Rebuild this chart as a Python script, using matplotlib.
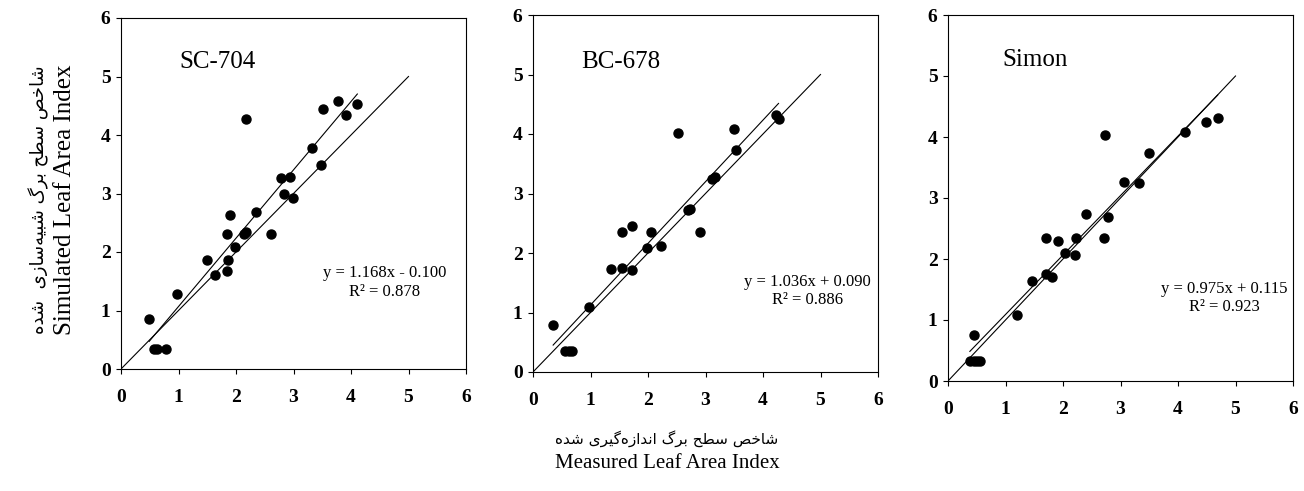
import matplotlib
matplotlib.use("Agg")
import matplotlib.pyplot as plt

# measured / simulated LAI for the three cultivars
sc704_x = [0.49, 0.57, 0.63, 0.79, 0.97, 1.49, 1.63, 1.84, 1.90, 1.86, 1.84, 1.99, 2.14,
           2.18, 2.17, 2.35, 2.60, 2.79, 2.83, 2.94, 2.99, 3.33, 3.48, 3.51, 3.78, 3.92, 4.11]
sc704_y = [0.85, 0.34, 0.34, 0.34, 1.29, 1.87, 1.61, 2.31, 2.64, 1.86, 1.68, 2.08, 2.30,
           2.35, 4.27, 2.69, 2.30, 3.26, 3.00, 3.29, 2.92, 3.78, 3.48, 4.44, 4.58, 4.34, 4.53]

bc678_x = [0.35, 0.55, 0.62, 0.68, 0.97, 1.35, 1.54, 1.54, 1.72, 1.73, 1.99, 2.06,
           2.22, 2.52, 2.69, 2.73, 2.91, 3.12, 3.16, 3.49, 3.53, 4.23, 4.27]
bc678_y = [0.79, 0.35, 0.35, 0.35, 1.10, 1.73, 1.75, 2.35, 2.46, 1.71, 2.08, 2.36,
           2.12, 4.02, 2.72, 2.74, 2.35, 3.25, 3.27, 4.08, 3.73, 4.32, 4.25]

simon_x = [0.38, 0.45, 0.50, 0.56, 0.46, 1.20, 1.46, 1.70, 1.70, 1.81, 1.91, 2.03,
           2.21, 2.22, 2.40, 2.71, 2.73, 2.79, 3.06, 3.33, 3.50, 4.13, 4.48, 4.69]
simon_y = [0.33, 0.33, 0.33, 0.33, 0.75, 1.08, 1.64, 2.34, 1.75, 1.70, 2.30, 2.10,
           2.06, 2.35, 2.73, 2.34, 4.04, 2.69, 3.26, 3.25, 3.73, 4.08, 4.25, 4.31]

names = ["SC-704", "BC-678", "Simon"]
slopes = [1.168, 1.036, 0.975]
intercepts = [-0.100, 0.090, 0.115]
r2 = [0.878, 0.886, 0.923]
ticks = [0, 1, 2, 3, 4, 5, 6]

ylab_fa = "شاخص سطح برگ شبیه\u200cسازی  شده"
xlab_fa = "شاخص سطح برگ اندازه\u200cگیری شده"

# presentation forms: isolated, final, initial, medial
forms = {
    'ا': ('\uFE8D', '\uFE8E', None, None),
    'ب': ('\uFE8F', '\uFE90', '\uFE91', '\uFE92'),
    'ح': ('\uFEA1', '\uFEA2', '\uFEA3', '\uFEA4'),
    'خ': ('\uFEA5', '\uFEA6', '\uFEA7', '\uFEA8'),
    'د': ('\uFEA9', '\uFEAA', None, None),
    'ر': ('\uFEAD', '\uFEAE', None, None),
    'ز': ('\uFEAF', '\uFEB0', None, None),
    'س': ('\uFEB1', '\uFEB2', '\uFEB3', '\uFEB4'),
    'ش': ('\uFEB5', '\uFEB6', '\uFEB7', '\uFEB8'),
    'ص': ('\uFEB9', '\uFEBA', '\uFEBB', '\uFEBC'),
    'ط': ('\uFEC1', '\uFEC2', '\uFEC3', '\uFEC4'),
    'ن': ('\uFEE5', '\uFEE6', '\uFEE7', '\uFEE8'),
    'ه': ('\uFEE9', '\uFEEA', '\uFEEB', '\uFEEC'),
    'گ': ('\uFB92', '\uFB93', '\uFB94', '\uFB95'),
    'ی': ('\uFBFC', '\uFBFD', '\uFBFE', '\uFBFF'),
}


def shape(s):
    # crude arabic shaping + reversal, matplotlib has no bidi support
    out = []
    for i, c in enumerate(s):
        if c not in forms:
            out.append('' if c == '\u200c' else c)
            continue
        f = forms[c]
        prev = s[i - 1] if i > 0 else ''
        nxt = s[i + 1] if i + 1 < len(s) else ''
        jp = prev in forms and forms[prev][2] is not None
        jn = f[2] is not None and nxt in forms
        if jp and jn:
            out.append(f[3])
        elif jp:
            out.append(f[1])
        elif jn:
            out.append(f[2])
        else:
            out.append(f[0])
    return ''.join(out)[::-1]


W, H = 1304, 491
fig = plt.figure(figsize=(W / 100, H / 100), dpi=100)

# axes boxes in pixels: left, top, right, bottom
boxes = [(121, 18, 466, 369), (533, 15, 878, 372), (948, 15, 1293, 381)]
title_pos = [(1.67, 5.25), (1.53, 5.21), (1.51, 5.26)]
eq_pos = [(4.59, 1.48), (4.78, 1.36), (4.80, 1.36)]
data = [(sc704_x, sc704_y), (bc678_x, bc678_y), (simon_x, simon_y)]

serif = "Liberation Serif"

for k, (l, t, r, b) in enumerate(boxes):
    ax = fig.add_axes([l / W, 1 - b / H, (r - l) / W, (b - t) / H])
    x, y = data[k]
    ax.plot([0, 5], [0, 5], color="black", lw=0.8)
    x0, x1 = min(x), max(x)
    ax.plot([x0, x1], [slopes[k] * x0 + intercepts[k], slopes[k] * x1 + intercepts[k]],
            color="black", lw=0.8)
    ax.plot(x, y, "o", color="black", ms=6.5, zorder=3)
    ax.set_xlim(0, 6)
    ax.set_ylim(0, 6)
    ax.set_xticks(ticks)
    ax.set_yticks(ticks)
    ax.tick_params(direction="out", length=3.5, width=0.8)
    ax.tick_params(axis="x", pad=11)
    ax.tick_params(axis="y", pad=4)
    for lab in ax.get_xticklabels() + ax.get_yticklabels():
        lab.set_fontfamily(serif)
        lab.set_fontweight("bold")
        lab.set_fontsize(14)
    for sp in ax.spines.values():
        sp.set_linewidth(0.8)
    ax.text(title_pos[k][0], title_pos[k][1], names[k], family=serif, fontsize=18,
            ha="center", va="center")
    sign = "-" if intercepts[k] < 0 else "+"
    eq = "y = %.3fx %s %.3f\nR² = %.3f" % (slopes[k], sign, abs(intercepts[k]), r2[k])
    ax.text(eq_pos[k][0], eq_pos[k][1], eq, family=serif, fontsize=12,
            ha="center", va="center", multialignment="center")

# axis labels (persian + english)
fig.text(39 / W, 1 - 200 / H, shape(ylab_fa), rotation=90, family="DejaVu Sans",
         fontsize=13, ha="center", va="center")
fig.text(65 / W, 1 - 200 / H, "Simulated Leaf Area Index", rotation=90, family=serif,
         fontsize=18, ha="center", va="center")
fig.text(667 / W, 1 - 439 / H, shape(xlab_fa), family="DejaVu Sans",
         fontsize=11, ha="center", va="center")
fig.text(667 / W, 1 - 464 / H, "Measured Leaf Area Index", family=serif,
         fontsize=15, ha="center", va="center")

fig.savefig("out.png", dpi=100)
